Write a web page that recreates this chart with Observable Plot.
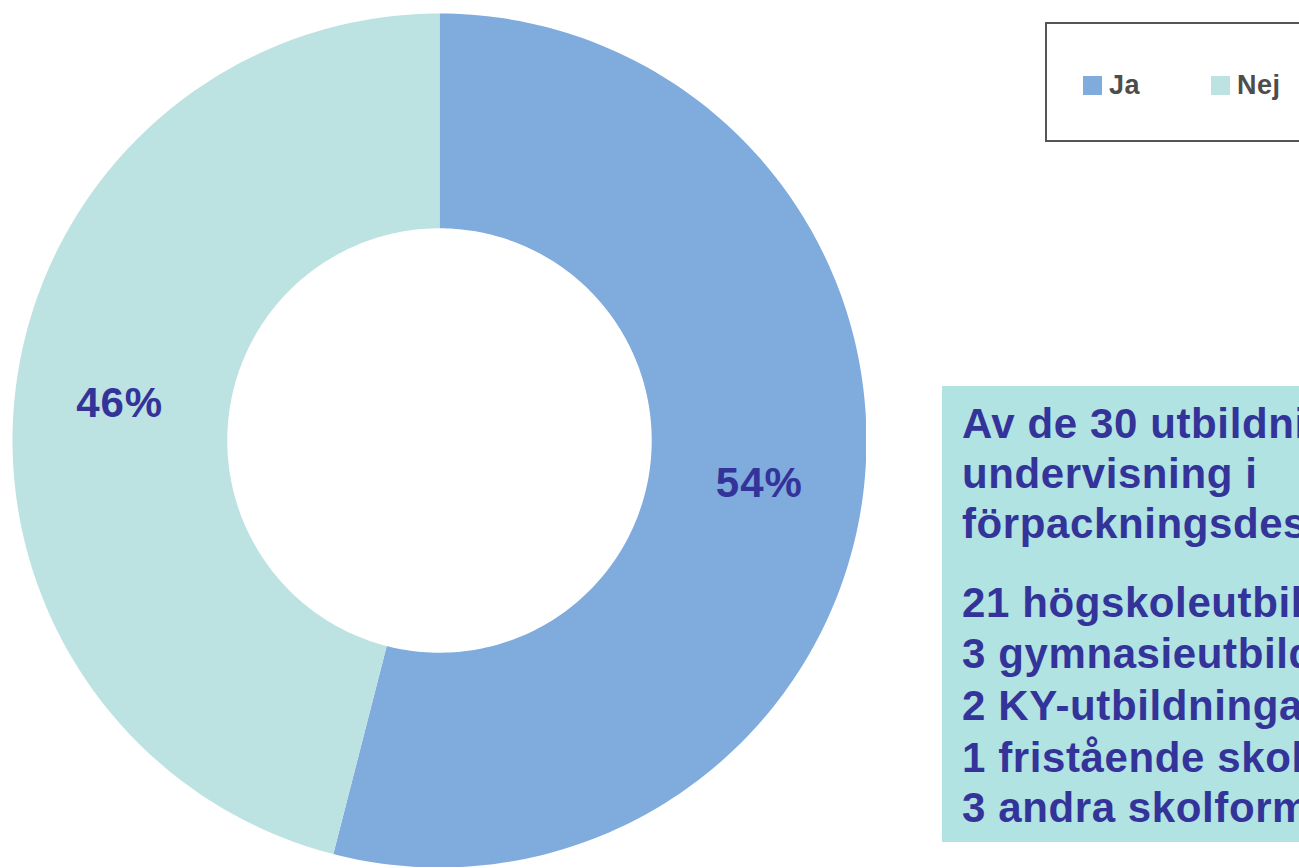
<!DOCTYPE html>
<html>
<head>
<meta charset="utf-8">
<script src="https://cdn.jsdelivr.net/npm/d3@7"></script>
<script src="https://cdn.jsdelivr.net/npm/@observablehq/plot@0.6"></script>
<style>
  html, body { margin: 0; padding: 0; background: #fff; }
  body { width: 1299px; height: 868px; overflow: hidden; position: relative;
         font-family: "Liberation Sans", Arial, sans-serif; }
  #chart { position: absolute; left: 12px; top: 13px; }
  #chart text { letter-spacing: 1px; }
  #legend { position: absolute; left: 1045px; top: 22px; width: 300px; height: 116px;
            border: 2px solid #555; box-sizing: content-box; background: #fff; }
  .item { position: absolute; top: 50px; font-weight: bold; font-size: 27px; color: #4d4d4d;
          line-height: 22px; white-space: nowrap; letter-spacing: 0.5px; }
  .sw { display: inline-block; width: 19px; height: 19px; margin-right: 7px; vertical-align: -1px; }
  #box { position: absolute; left: 942px; top: 386px; width: 420px; height: 456px;
         background: #B0E3E2; overflow: hidden; }
  #box .t { position: absolute; left: 20px; white-space: nowrap; font-weight: bold;
            font-size: 42px; letter-spacing: 0.6px; color: #333399; line-height: 1; }
</style>
</head>
<body>
<div id="chart"></div>
<div id="legend"></div>
<div id="box"></div>
<script>
const categories = ["Ja", "Nej"];
const values = [54, 46];
const colors = ["#7FABDD", "#BDE2E2"];
const boxHeading = ["Av de 30 utbildningar som har", "undervisning i", "förpackningsdesign är:"];
const boxItems = ["21 högskoleutbildningar", "3 gymnasieutbildningar", "2 KY-utbildningar", "1 fristående skola", "3 andra skolformer"];

const data = categories.map((c, i) => ({category: c, value: values[i]}));
const pie = d3.pie().value(d => d.value).sort(null)(data);
const inner = 0.497, outer = 1;
const pt = (r, a) => [r * Math.sin(a), r * Math.cos(a)];
const features = pie.map(p => {
  const n = 180;
  const ring = [];
  for (let k = 0; k <= n; k++) ring.push(pt(outer, p.startAngle + (p.endAngle - p.startAngle) * k / n));
  for (let k = n; k >= 0; k--) ring.push(pt(inner, p.startAngle + (p.endAngle - p.startAngle) * k / n));
  ring.push(ring[0]);
  return {type: "Feature", properties: {category: p.data.category, value: p.data.value},
          geometry: {type: "Polygon", coordinates: [ring]}};
});
const labels = pie.map(p => {
  const m = (p.startAngle + p.endAngle) / 2;
  const [x, y] = pt(0.755, m);
  return {x, y, text: p.data.value + "%"};
});

const plot = Plot.plot({
  width: 854, height: 854, margin: 0,
  projection: {type: "reflect-y", domain: {type: "MultiPoint", coordinates: [[-1, -1], [1, 1]]}},
  color: {domain: categories, range: colors},
  marks: [
    Plot.geo(features, {fill: d => d.properties.category, stroke: "none"}),
    Plot.text(labels, {x: "x", y: "y", text: "text", fill: "#333399", fontSize: 42, dy: 3,
      fontWeight: "bold", fontFamily: "Liberation Sans, Arial, sans-serif"})
  ]
});
document.getElementById("chart").appendChild(plot);

const legend = document.getElementById("legend");
const lx = [36, 164];
categories.forEach((c, i) => {
  const d = document.createElement("div");
  d.className = "item";
  d.style.left = lx[i] + "px";
  d.innerHTML = `<span class="sw" style="background:${colors[i]}"></span>${c}`;
  legend.appendChild(d);
});

const box = document.getElementById("box");
const baselines = [52, 102, 152, 231, 282, 334, 386, 436];
boxHeading.concat(boxItems).forEach((s, i) => {
  const d = document.createElement("div");
  d.className = "t";
  d.textContent = s;
  d.style.top = (baselines[i] - 35) + "px";
  box.appendChild(d);
});
</script>
</body>
</html>
